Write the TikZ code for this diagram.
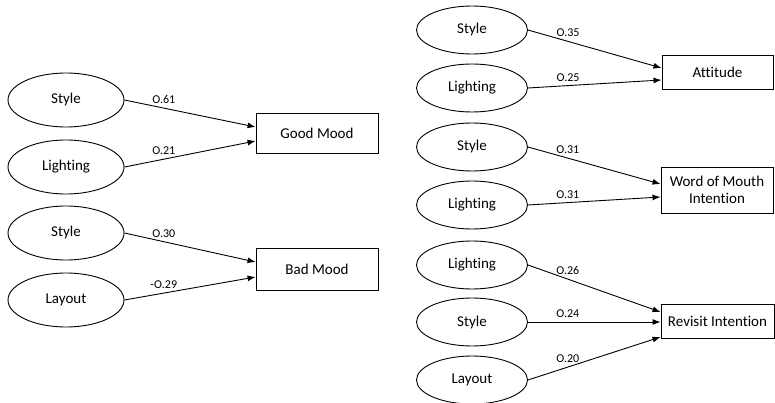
\documentclass[tikz,border=0pt]{standalone}
\usepackage{fontspec}
\setmainfont{Carlito}[Ligatures=NoCommon]
\usetikzlibrary{shapes,arrows,arrows.meta,positioning}

\begin{document}
\begin{tikzpicture}[x=1pt,y=-1pt,
  factor/.style={draw,ellipse,line width=0.9pt,inner sep=0pt,
    minimum width=116pt,minimum height=54pt,font=\fontsize{15}{17.5}\selectfont},
  rfactor/.style={factor,minimum width=111pt,minimum height=48pt},
  outcome/.style={draw,rectangle,line width=0.9pt,inner sep=0pt,align=center,
    font=\fontsize{15}{17.5}\selectfont},
  effect/.style={-{Latex[length=8pt,width=6pt]},line width=0.9pt},
  coef/.style={font=\fontsize{12}{14}\selectfont,inner sep=1pt,above=3pt,pos=0.3}]
\useasboundingbox (0,0) rectangle (775,403);
% Draw the mood model
\node[factor] (ls1) at (66,100) {Style};
\node[factor] (ll1) at (66,167) {Lighting};
\node[factor] (ls2) at (66,233) {Style};
\node[factor] (lay) at (66,300) {Layout};
\node[outcome,minimum width=122pt,minimum height=40pt] (good) at (317,133) {Good Mood};
\node[outcome,minimum width=122pt,minimum height=42pt] (bad) at (317,269) {Bad Mood};
\draw[effect] (ls1.east) -- node[coef] {O.61} ([yshift=6pt]good.west);
\draw[effect] (ll1.east) -- node[coef] {O.21} ([yshift=-8pt]good.west);
\draw[effect] (ls2.east) -- node[coef] {O.30} ([yshift=7pt]bad.west);
\draw[effect] (lay.east) -- node[coef] {-O.29} ([yshift=-8pt]bad.west);
% Draw the intention model
\node[rfactor] (rs1) at (472,30) {Style};
\node[rfactor] (rl1) at (472,88) {Lighting};
\node[rfactor] (rs2) at (472,147) {Style};
\node[rfactor] (rl2) at (472,205) {Lighting};
\node[rfactor] (rl3) at (472,265) {Lighting};
\node[rfactor] (rs3) at (472,322) {Style};
\node[rfactor] (ray) at (472,380) {Layout};
\node[outcome,minimum width=111pt,minimum height=34pt] (att) at (717.5,72) {Attitude};
\node[outcome,minimum width=112pt,minimum height=46pt] (wom) at (717,190) {Word of Mouth\\Intention};
\node[outcome,minimum width=113pt,minimum height=34pt] (rev) at (717.5,321) {Revisit Intention};
\draw[effect] (rs1.east) -- node[coef] {O.35} ([yshift=4pt]att.west);
\draw[effect] (rl1.east) -- node[coef] {O.25} ([yshift=-8pt]att.west);
\draw[effect] (rs2.east) -- node[coef] {O.31} ([yshift=6pt]wom.west);
\draw[effect] (rl2.east) -- node[coef] {O.31} ([yshift=-7pt]wom.west);
\draw[effect] (rl3.east) -- node[coef] {O.26} ([yshift=9pt]rev.west);
\draw[effect] (rs3.east) -- node[coef] {O.24} (rs3.east -| rev.west);
\draw[effect] (ray.east) -- node[coef] {O.20} ([yshift=-16pt]rev.west);
\end{tikzpicture}
\end{document}
